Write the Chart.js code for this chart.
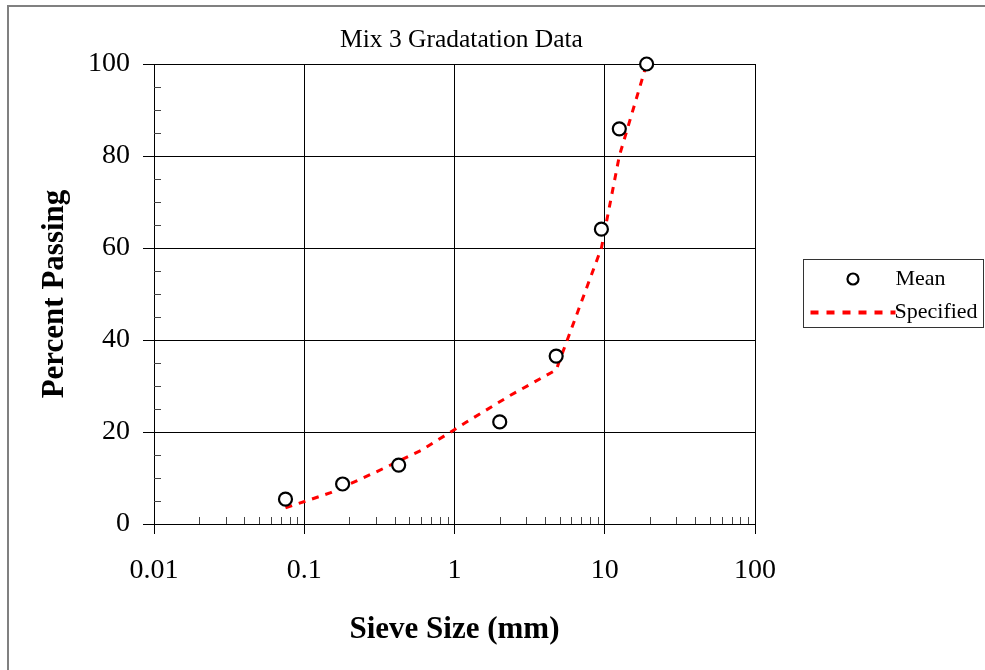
<!DOCTYPE html>
<html>
<head>
<meta charset="utf-8">
<script src="https://cdn.jsdelivr.net/npm/chart.js@4.4.1/dist/chart.umd.min.js"></script>
<style>
  html, body { margin: 0; padding: 0; background: #fff; overflow: hidden; }
  #frame { position: absolute; left: 7px; top: 5px; width: 1000px; height: 700px; border: 2px solid #808080; }
  #wrap { position: absolute; left: 0; top: 0; width: 985px; height: 670px; }
</style>
</head>
<body>
<div id="frame"></div>
<div id="wrap"><canvas id="chart"></canvas></div>
<script>
const CHART_TITLE = 'Mix 3 Gradatation Data';
const X_TITLE = 'Sieve Size (mm)';
const Y_TITLE = 'Percent Passing';

// measured mean gradation
const meanSieve = [0.075, 0.18, 0.425, 2.0, 4.75, 9.5, 12.5, 19.0];
const meanPassing = [5.4, 8.7, 12.8, 22.2, 36.5, 64.1, 85.9, 100];

// specified gradation
const specSieve = [0.075, 0.15, 0.3, 0.6, 1.18, 2.36, 4.75, 9.5, 12.5, 19.0];
const specPassing = [3.5, 6.8, 11.3, 16, 22, 28, 33.5, 60, 80, 100];

// axis ticks
const xTickValues = [0.01, 0.1, 1, 10, 100];
const xMinorMultipliers = [2, 3, 4, 5, 6, 7, 8, 9];
const yTickStep = 20;
const yMinorStep = 5;

const SERIF = '"Liberation Serif", "Times New Roman", serif';

// Title, minor ticks and the boxed legend on the right - drawn by hand so
// they land where the original spreadsheet chart had them.
const decorations = {
  id: 'decorations',
  afterDraw(chart) {
    const { ctx, chartArea, scales: { x, y } } = chart;
    ctx.save();

    // title, centred a bit right of the plot centre like the original
    ctx.fillStyle = '#000';
    ctx.font = '25.5px ' + SERIF;
    ctx.textAlign = 'center';
    ctx.textBaseline = 'middle';
    ctx.fillText(CHART_TITLE, (chartArea.left + chartArea.right) / 2 + 7, chartArea.top - 24);

    // minor ticks: inside the plot, x up from the axis, y right of the axis
    ctx.strokeStyle = '#444';
    ctx.lineWidth = 1;
    ctx.beginPath();
    xTickValues.slice(0, -1).forEach(dec => {
      xMinorMultipliers.forEach(m => {
        const px = Math.round(x.getPixelForValue(dec * m)) + 0.5;
        ctx.moveTo(px, chartArea.bottom);
        ctx.lineTo(px, chartArea.bottom - 7);
      });
    });
    for (let v = yMinorStep; v < y.max; v += yMinorStep) {
      if (v % yTickStep === 0) continue;
      const py = Math.round(y.getPixelForValue(v)) + 0.5;
      ctx.moveTo(chartArea.left, py);
      ctx.lineTo(chartArea.left + 7, py);
    }
    ctx.stroke();

    // legend
    const [meanDs, specDs] = chart.data.datasets;
    const lx = chartArea.right + 48.5, ly = 259.5, lw = 180, lh = 68;
    ctx.strokeStyle = '#333';
    ctx.lineWidth = 1;
    ctx.strokeRect(lx, ly, lw, lh);

    ctx.font = '22px ' + SERIF;
    ctx.textAlign = 'left';
    ctx.textBaseline = 'middle';

    ctx.beginPath();
    ctx.arc(lx + 49.5, ly + 19.5, meanDs.pointRadius - 1, 0, Math.PI * 2);
    ctx.fillStyle = meanDs.pointBackgroundColor;
    ctx.fill();
    ctx.lineWidth = meanDs.pointBorderWidth;
    ctx.strokeStyle = meanDs.pointBorderColor;
    ctx.stroke();
    ctx.fillStyle = '#000';
    ctx.fillText(meanDs.label, lx + 92, ly + 20);

    ctx.beginPath();
    ctx.setLineDash([8, 8]);
    ctx.lineWidth = 4;
    ctx.strokeStyle = specDs.borderColor;
    ctx.moveTo(lx + 7, ly + 53);
    ctx.lineTo(lx + 92, ly + 53);
    ctx.stroke();
    ctx.setLineDash([]);
    ctx.fillText(specDs.label, lx + 91, ly + 53);

    ctx.restore();
  }
};

new Chart(document.getElementById('chart'), {
  type: 'scatter',
  data: {
    datasets: [
      {
        label: 'Mean',
        data: meanSieve.map((s, i) => ({ x: s, y: meanPassing[i] })),
        showLine: false,
        pointRadius: 6.5,
        pointBorderWidth: 2.2,
        pointBackgroundColor: '#fff',
        pointBorderColor: '#000',
        clip: false
      },
      {
        label: 'Specified',
        data: specSieve.map((s, i) => ({ x: s, y: specPassing[i] })),
        showLine: true,
        borderColor: '#ff0000',
        borderWidth: 3,
        borderDash: [7, 7],
        pointRadius: 0,
        tension: 0,
        clip: false
      }
    ]
  },
  options: {
    responsive: true,
    maintainAspectRatio: false,
    devicePixelRatio: 1,
    animation: false,
    events: [],
    layout: { padding: { left: 0, top: 64, right: 230, bottom: 0 } },
    plugins: {
      legend: { display: false },
      tooltip: { enabled: false },
      title: { display: false }
    },
    scales: {
      x: {
        type: 'logarithmic',
        min: 0.01,
        max: 100,
        afterBuildTicks: s => { s.ticks = xTickValues.map(v => ({ value: v })); },
        afterFit: s => { s.height = 146; },
        ticks: {
          callback: v => String(v),
          color: '#000',
          font: { family: SERIF, size: 28 },
          padding: 20,
          maxRotation: 0,
          autoSkip: false
        },
        grid: { color: '#000', tickColor: '#000', tickLength: 10, lineWidth: 1 },
        border: { color: '#000', width: 1 },
        title: {
          display: true,
          text: X_TITLE,
          color: '#000',
          font: { family: SERIF, size: 31, weight: 'bold' },
          padding: { top: 0, bottom: 21 }
        }
      },
      y: {
        min: 0,
        max: 100,
        afterFit: s => { s.width = 154; },
        ticks: {
          stepSize: yTickStep,
          color: '#000',
          font: { family: SERIF, size: 28 },
          padding: 13
        },
        grid: { color: '#000', tickColor: '#000', tickLength: 11, lineWidth: 1 },
        border: { color: '#000', width: 1 },
        title: {
          display: true,
          text: Y_TITLE,
          color: '#000',
          font: { family: SERIF, size: 31, weight: 'bold' },
          padding: { top: 36, bottom: 0 }
        }
      }
    }
  },
  plugins: [decorations]
});
</script>
</body>
</html>
